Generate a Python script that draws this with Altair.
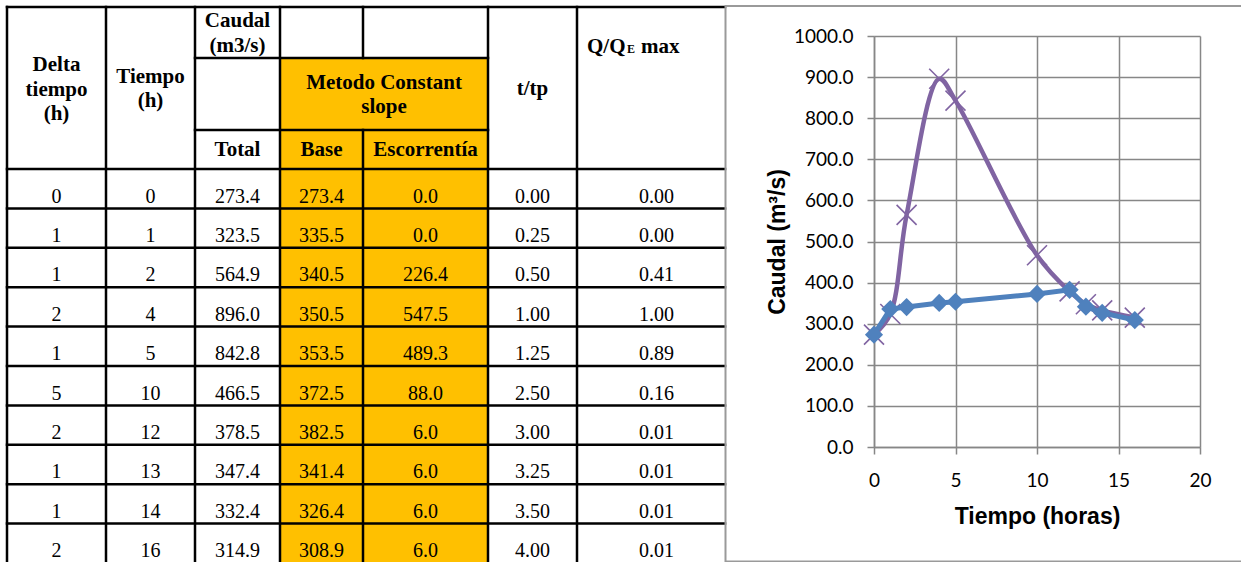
import altair as alt
import pandas as pd

# ---- hydrograph data (one entry per time step) ----
delta_t = [0, 1, 1, 2, 1, 5, 2, 1, 1, 2]
tiempo = [0, 1, 2, 4, 5, 10, 12, 13, 14, 16]
caudal_total = [273.4, 323.5, 564.9, 896.0, 842.8, 466.5, 378.5, 347.4, 332.4, 314.9]
caudal_base = [273.4, 335.5, 340.5, 350.5, 353.5, 372.5, 382.5, 341.4, 326.4, 308.9]
escorrentia = [0.0, 0.0, 226.4, 547.5, 489.3, 88.0, 6.0, 6.0, 6.0, 6.0]
t_tp = [0.00, 0.25, 0.50, 1.00, 1.25, 2.50, 3.00, 3.25, 3.50, 4.00]
q_qmax = [0.00, 0.00, 0.41, 1.00, 0.89, 0.16, 0.01, 0.01, 0.01, 0.01]

# ---- page layout (pixels) ----
W, H = 1241, 562
PLOT_L, PLOT_T, PLOT_W, PLOT_H = 874, 36, 326, 411
col_edges = [7, 106, 195, 280, 363, 488, 577, 725]
text_x = [56.5, 150.5, 237.5, 321.5, 425.5, 532.5, 656.5]
TOP, HEAD1, HEAD2, HEAD_END = 7, 58, 130, 169
ROW_H = 39.4
ROW_BASE = 33.5
BOTTOM = 575

SERIF = "Liberation Serif"
SANS = "Liberation Sans"
ORANGE = "#FFC000"
PURPLE = "#8064A2"
BLUE = "#4F81BD"
GRID = "#878787"

px_scale_x = alt.Scale(domain=[0, W], range=[-PLOT_L, W - PLOT_L], nice=False, zero=False)
px_scale_y = alt.Scale(domain=[0, H], range=[-PLOT_T, H - PLOT_T], nice=False, zero=False)


def px(enc_x="x", enc_y="y"):
    return dict(
        x=alt.X(f"{enc_x}:Q", scale=px_scale_x, axis=None),
        y=alt.Y(f"{enc_y}:Q", scale=px_scale_y, axis=None),
    )


# ---- table grid ----
segs = []


def seg(x1, y1, x2, y2):
    segs.append(dict(x=x1, y=y1, x2=x2, y2=y2))


seg(col_edges[0], TOP, col_edges[-1], TOP)
seg(col_edges[2], HEAD1, col_edges[5], HEAD1)
seg(col_edges[2], HEAD2, col_edges[5], HEAD2)
for k in range(len(tiempo)):
    yk = HEAD_END + k * ROW_H
    seg(col_edges[0], yk, col_edges[-1], yk)
for xe in [col_edges[i] for i in (0, 1, 2, 3, 5, 6)]:
    seg(xe, TOP, xe, BOTTOM)
seg(col_edges[4], TOP, col_edges[4], HEAD1)
seg(col_edges[4], HEAD2, col_edges[4], BOTTOM)
grid_df = pd.DataFrame(segs)

fill_df = pd.DataFrame([dict(x=col_edges[3], y=HEAD1, x2=col_edges[5], y2=BOTTOM)])
frame_df = pd.DataFrame([dict(x=725.5, y=6, x2=W + 10, y2=561.5)])

# ---- header labels ----
head_center = pd.DataFrame([
    dict(t="Delta", x=text_x[0], y=71), dict(t="tiempo", x=text_x[0], y=95.5),
    dict(t="(h)", x=text_x[0], y=119.5),
    dict(t="Tiempo", x=text_x[1], y=83), dict(t="(h)", x=text_x[1], y=107),
    dict(t="Caudal", x=text_x[2], y=27), dict(t="(m3/s)", x=text_x[2], y=51.5),
    dict(t="Total", x=text_x[2], y=156),
    dict(t="Metodo Constant", x=(col_edges[3] + col_edges[5]) / 2, y=89),
    dict(t="slope", x=(col_edges[3] + col_edges[5]) / 2, y=112.5),
    dict(t="Base", x=text_x[3], y=156), dict(t="Escorrentía", x=text_x[4], y=156),
    dict(t="t/tp", x=text_x[5], y=95),
])
head_left = pd.DataFrame([dict(t="Q/Q", x=587, y=52.5), dict(t="max", x=641, y=52.5)])
head_sub = pd.DataFrame([dict(t="E", x=627, y=53)])

# ---- body cells ----
cols = [
    (delta_t, "{:d}"), (tiempo, "{:d}"), (caudal_total, "{:.1f}"), (caudal_base, "{:.1f}"),
    (escorrentia, "{:.1f}"), (t_tp, "{:.2f}"), (q_qmax, "{:.2f}"),
]
cells = []
for c, (vals, fmt) in enumerate(cols):
    for r, v in enumerate(vals):
        cells.append(dict(t=fmt.format(v), x=text_x[c], y=HEAD_END + r * ROW_H + ROW_BASE))
cells_df = pd.DataFrame(cells)

fills = alt.Chart(fill_df).mark_rect(color=ORANGE).encode(
    **px(), x2="x2:Q", y2="y2:Q")
lines = alt.Chart(grid_df).mark_rule(color="black", strokeWidth=2.5, strokeCap="square").encode(
    **px(), x2="x2:Q", y2="y2:Q")
frame = alt.Chart(frame_df).mark_rect(filled=False, color="#9a9a9a", strokeWidth=2).encode(
    **px(), x2="x2:Q", y2="y2:Q")
txt_head = alt.Chart(head_center).mark_text(
    font=SERIF, fontSize=21, fontWeight="bold", align="center", baseline="alphabetic", color="black"
).encode(**px(), text="t:N")
txt_head_l = alt.Chart(head_left).mark_text(
    font=SERIF, fontSize=21, fontWeight="bold", align="left", baseline="alphabetic", color="black"
).encode(**px(), text="t:N")
txt_sub = alt.Chart(head_sub).mark_text(
    font=SERIF, fontSize=12, fontWeight="bold", align="left", baseline="alphabetic", color="black"
).encode(**px(), text="t:N")
txt_cells = alt.Chart(cells_df).mark_text(
    font=SERIF, fontSize=20, align="center", baseline="alphabetic", color="black"
).encode(**px(), text="t:N")

table = alt.layer(fills, lines, txt_head, txt_head_l, txt_sub, txt_cells, frame)

# ---- hydrograph plot ----
total_df = pd.DataFrame({"tiempo": tiempo, "caudal": caudal_total})
base_df = pd.DataFrame({"tiempo": tiempo, "caudal": caudal_base})

x_enc = alt.X(
    "tiempo:Q",
    scale=alt.Scale(domain=[0, 20], nice=False, zero=False),
    axis=alt.Axis(
        orient="bottom", values=[0, 5, 10, 15, 20], format="d", title="Tiempo (horas)",
        grid=True, gridColor=GRID, gridWidth=1.5, domainColor=GRID, domainWidth=1.5,
        tickColor=GRID, tickWidth=1.5, tickSize=7, labelFont="Lato", labelFontSize=19,
        labelColor="black", labelPadding=17, labelFlush=False, labelOverlap=False,
        titleFont=SANS, titleFontSize=23,
        titleFontWeight="bold", titleColor="black", titleBaseline="alphabetic",
        titleAlign="center", titleX=PLOT_W / 2, titleY=76,
    ),
)
y_enc = alt.Y(
    "caudal:Q",
    scale=alt.Scale(domain=[0, 1000], nice=False),
    axis=alt.Axis(
        orient="left", values=list(range(0, 1001, 100)), format=".1f", title="Caudal (m³/s)",
        grid=True, gridColor=GRID, gridWidth=1.5, domainColor=GRID, domainWidth=1.5,
        tickColor=GRID, tickWidth=1.5, tickSize=7, labelFont="Lato", labelFontSize=19,
        labelColor="black", labelPadding=14, labelFlush=False, labelOverlap=False,
        titleFont=SANS, titleFontSize=23,
        titleFontWeight="bold", titleColor="black", titleAngle=270,
        titleBaseline="alphabetic", titleAlign="center", titleX=-90, titleY=PLOT_H / 2,
    ),
)

x_mark = "M-1,-1L1,1M-1,1L1,-1"
total_line = alt.Chart(total_df).mark_line(
    color=PURPLE, strokeWidth=4.5, interpolate="catmull-rom").encode(x=x_enc, y=y_enc)
total_pts = alt.Chart(total_df).mark_point(
    shape=x_mark, size=400, filled=False, color=PURPLE, strokeWidth=1.6, opacity=1
).encode(x=x_enc, y=y_enc)
base_line = alt.Chart(base_df).mark_line(color=BLUE, strokeWidth=5).encode(x=x_enc, y=y_enc)
base_pts = alt.Chart(base_df).mark_point(
    shape="diamond", size=330, filled=True, color=BLUE, opacity=1
).encode(x=x_enc, y=y_enc)

plot = alt.layer(total_line, total_pts, base_line, base_pts)

chart = (
    alt.layer(table, plot)
    .resolve_scale(x="independent", y="independent")
    .properties(
        width=PLOT_W,
        height=PLOT_H,
        padding={"left": PLOT_L, "top": PLOT_T, "right": W - PLOT_L - PLOT_W,
                 "bottom": H - PLOT_T - PLOT_H},
        autosize=alt.AutoSizeParams(type="none"),
        background="white",
    )
    .configure_view(stroke=None)
)

chart.save("out.html", embed_options={"renderer": "svg", "actions": False})
